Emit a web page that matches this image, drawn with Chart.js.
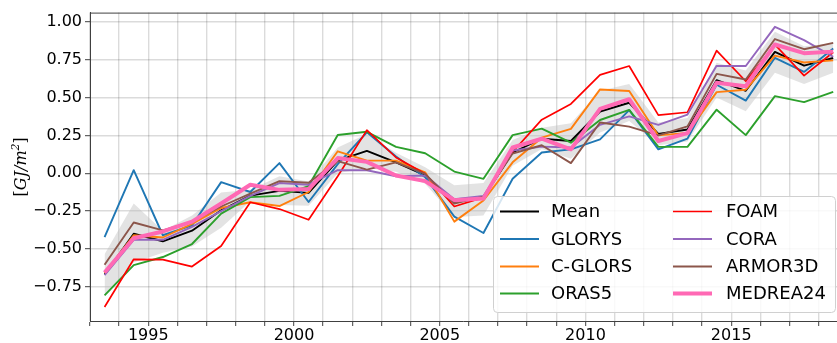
<!DOCTYPE html>
<html>
<head>
<meta charset="utf-8">
<script src="https://cdn.jsdelivr.net/npm/chart.js@4/dist/chart.umd.min.js"></script>
<style>
  html, body { margin: 0; padding: 0; background: #fff; }
  canvas { display: block; }
</style>
</head>
<body>
<canvas id="c" width="837" height="343"></canvas>
<script>
// Annual ocean heat content anomaly per product, one value per year (plotted mid-year)
const years = [1993, 1994, 1995, 1996, 1997, 1998, 1999, 2000, 2001, 2002, 2003, 2004, 2005,
               2006, 2007, 2008, 2009, 2010, 2011, 2012, 2013, 2014, 2015, 2016, 2017, 2018];

const meanOHC = [-0.670, -0.400, -0.450, -0.380, -0.245, -0.148, -0.117, -0.130, 0.083, 0.148, 0.072, -0.015, -0.190,
                 -0.160, 0.137, 0.228, 0.213, 0.408, 0.466, 0.260, 0.289, 0.615, 0.545, 0.802, 0.711, 0.762];
const glorys  = [-0.423, 0.020, -0.410, -0.345, -0.059, -0.124, 0.067, -0.190, 0.060, 0.270, 0.110, -0.026, -0.287,
                 -0.395, -0.037, 0.137, 0.158, 0.224, 0.417, 0.158, 0.229, 0.585, 0.480, 0.763, 0.670, 0.824];
const cglors  = [-0.660, -0.410, -0.425, -0.335, -0.230, -0.192, -0.217, -0.124, 0.145, 0.083, 0.083, 0.006, -0.320,
                 -0.180, 0.072, 0.235, 0.293, 0.554, 0.544, 0.250, 0.267, 0.536, 0.552, 0.778, 0.732, 0.746];
const oras5   = [-0.808, -0.608, -0.554, -0.468, -0.267, -0.158, -0.150, -0.085, 0.253, 0.274, 0.174, 0.132, 0.011,
                 -0.037, 0.252, 0.295, 0.202, 0.352, 0.419, 0.175, 0.174, 0.420, 0.252, 0.510, 0.470, 0.538];
const foam    = [-0.884, -0.569, -0.571, -0.617, -0.481, -0.192, -0.237, -0.308, -0.020, 0.285, 0.104, -0.004, -0.220,
                 -0.160, 0.140, 0.354, 0.458, 0.650, 0.709, 0.384, 0.403, 0.811, 0.608, 0.850, 0.645, 0.800];
const cora    = [-0.673, -0.440, -0.440, -0.355, -0.250, -0.150, -0.065, -0.076, 0.020, 0.020, -0.020, -0.015, -0.172,
                 -0.150, 0.150, 0.176, 0.170, 0.320, 0.376, 0.320, 0.388, 0.710, 0.709, 0.968, 0.880, 0.770];
const armor3d = [-0.605, -0.326, -0.378, -0.320, -0.220, -0.135, -0.052, -0.063, 0.080, 0.024, 0.072, -0.004, -0.200,
                 -0.155, 0.130, 0.185, 0.067, 0.335, 0.308, 0.250, 0.310, 0.657, 0.620, 0.887, 0.820, 0.862];
const medrea24 = [-0.656, -0.430, -0.385, -0.320, -0.200, -0.076, -0.110, -0.105, 0.100, 0.075, -0.015, -0.052, -0.178,
                  -0.167, 0.170, 0.228, 0.158, 0.425, 0.489, 0.213, 0.265, 0.598, 0.575, 0.851, 0.794, 0.804];

// Ensemble spread envelope (lower / upper edge of the shaded band)
const spreadLow  = [-0.810, -0.590, -0.525, -0.485, -0.360, -0.185, -0.210, -0.215, 0.000, 0.035, 0.010, -0.070, -0.290,
                    -0.280, 0.050, 0.160, 0.095, 0.270, 0.345, 0.185, 0.210, 0.500, 0.410, 0.665, 0.590, 0.665];
const spreadHigh = [-0.535, -0.200, -0.380, -0.280, -0.128, -0.110, -0.020, -0.055, 0.170, 0.260, 0.135, 0.040, -0.080,
                    -0.065, 0.220, 0.300, 0.330, 0.545, 0.590, 0.335, 0.365, 0.730, 0.680, 0.935, 0.840, 0.860];

const yTicks = [-0.75, -0.50, -0.25, 0.00, 0.25, 0.50, 0.75, 1.00];
const xLabelEvery = 5;

const pts = arr => arr.map((v, i) => ({ x: years[i] + 0.5, y: v }));

const series = [
  { label: 'Mean',      data: meanOHC,  color: '#000000', width: 1.9 },
  { label: 'GLORYS',    data: glorys,   color: '#1f77b4', width: 1.9 },
  { label: 'C-GLORS',   data: cglors,   color: '#ff7f0e', width: 1.9 },
  { label: 'ORAS5',     data: oras5,    color: '#2ca02c', width: 1.9 },
  { label: 'FOAM',      data: foam,     color: '#ff0000', width: 1.7 },
  { label: 'CORA',      data: cora,     color: '#9467bd', width: 1.9 },
  { label: 'ARMOR3D',   data: armor3d,  color: '#8c564b', width: 1.9 },
  { label: 'MEDREA24',  data: medrea24, color: '#ff69b4', width: 4 }
];

const n = series.length;
const datasets = series.map((s, i) => ({
  label: s.label,
  data: pts(s.data),
  borderColor: s.color,
  backgroundColor: s.color,
  borderWidth: s.width,
  pointRadius: 0,
  tension: 0,
  fill: false,
  borderJoinStyle: 'round',
  order: n - i
}));

// shaded spread band, drawn beneath every line
datasets.push({
  label: '_low', data: pts(spreadLow), borderWidth: 0, borderColor: 'rgba(0,0,0,0)',
  pointRadius: 0, fill: false, order: n + 2
});
datasets.push({
  label: '_high', data: pts(spreadHigh), borderWidth: 0, borderColor: 'rgba(0,0,0,0)',
  backgroundColor: 'rgba(185,185,185,0.40)', pointRadius: 0, fill: '-1', order: n + 1
});

const FONT = "'DejaVu Sans', 'Liberation Sans', sans-serif";

// top spine, y-axis title and the two-column legend
const decorations = {
  id: 'decorations',
  afterDraw(chart) {
    const ctx = chart.ctx;
    const a = chart.chartArea;
    ctx.save();
    ctx.strokeStyle = '#404040';
    ctx.lineWidth = 1;
    ctx.beginPath();
    ctx.moveTo(a.left, a.top + 0.5);
    ctx.lineTo(a.right, a.top + 0.5);
    ctx.stroke();

    // y-axis title
    ctx.save();
    ctx.translate(22, (a.top + a.bottom) / 2);
    ctx.rotate(-Math.PI / 2);
    ctx.fillStyle = '#000';
    ctx.textBaseline = 'middle';
    const parts = [
      { t: '[', f: "16px 'DejaVu Serif', serif" },
      { t: 'GJ/m', f: "italic 16px 'DejaVu Serif', serif" },
      { t: '2', f: "italic 11px 'DejaVu Serif', serif", up: 6 },
      { t: ']', f: "16px 'DejaVu Serif', serif" }
    ];
    let total = 0;
    parts.forEach(p => { ctx.font = p.f; p.w = ctx.measureText(p.t).width; total += p.w; });
    let x = -total / 2;
    ctx.textAlign = 'left';
    parts.forEach(p => { ctx.font = p.f; ctx.fillText(p.t, x, p.up ? -p.up : 0); x += p.w; });
    ctx.restore();

    // legend
    const box = { x: 493.5, y: 196.5, w: 342, h: 116 };
    ctx.fillStyle = 'rgba(255,255,255,0.82)';
    ctx.strokeStyle = '#d0d0d0';
    ctx.lineWidth = 1;
    ctx.beginPath();
    ctx.roundRect(box.x, box.y, box.w, box.h, 4);
    ctx.fill();
    ctx.stroke();

    const cols = [{ lx: 500, tx: 551 }, { lx: 673, tx: 726 }];
    const rowY = [211.5, 239, 266.5, 293.5];
    ctx.font = '18px ' + FONT;
    ctx.textBaseline = 'middle';
    ctx.textAlign = 'left';
    series.forEach((s, i) => {
      const c = cols[Math.floor(i / 4)];
      const y = rowY[i % 4];
      ctx.strokeStyle = s.color;
      ctx.lineWidth = s.width;
      ctx.beginPath();
      ctx.moveTo(c.lx, y);
      ctx.lineTo(c.lx + 39, y);
      ctx.stroke();
      ctx.fillStyle = '#000';
      ctx.fillText(s.label, c.tx, y + 1);
    });
    ctx.restore();
  }
};

new Chart(document.getElementById('c'), {
  type: 'line',
  data: { datasets },
  options: {
    responsive: false,
    animation: false,
    layout: { padding: { top: 8, right: 0, left: 0, bottom: 0 } },
    plugins: { legend: { display: false }, tooltip: { enabled: false } },
    scales: {
      x: {
        type: 'linear',
        min: 1993,
        max: 2018.63,
        afterBuildTicks: s => { s.ticks = years.map(v => ({ value: v })); },
        afterFit: s => { s.height = 22; },
        ticks: {
          autoSkip: false,
          maxRotation: 0,
          padding: 0,
          color: '#000',
          font: { family: FONT, size: 16 },
          callback: v => (v % xLabelEvery === 0 ? String(v) : '')
        },
        grid: { color: 'rgba(0,0,0,0.14)', lineWidth: 1.4, tickLength: 5, tickColor: '#404040', tickWidth: 1 },
        border: { display: true, color: '#404040', width: 1 }
      },
      y: {
        type: 'linear',
        min: -0.977,
        max: 1.062,
        afterBuildTicks: s => { s.ticks = yTicks.map(v => ({ value: v })); },
        afterFit: s => { s.width = 90; },
        ticks: {
          padding: 3,
          color: '#000',
          font: { family: FONT, size: 16 },
          callback: v => v.toFixed(2).replace('-', '\u2212')
        },
        grid: { color: 'rgba(0,0,0,0.14)', lineWidth: 1.4, tickLength: 5, tickColor: '#404040', tickWidth: 1 },
        border: { display: true, color: '#404040', width: 1 }
      }
    }
  },
  plugins: [decorations]
});
</script>
</body>
</html>
